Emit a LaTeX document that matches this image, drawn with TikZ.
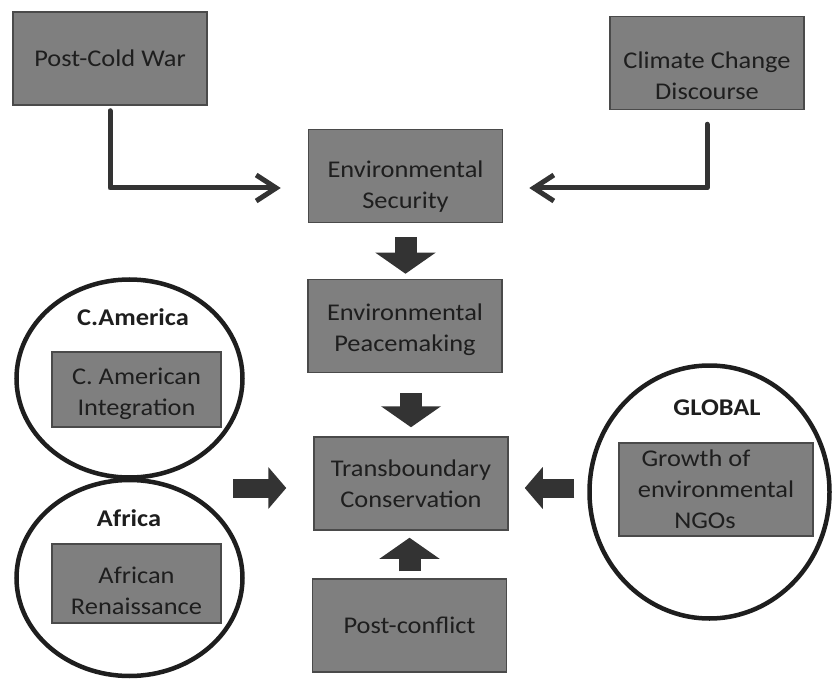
\documentclass[tikz,border=0pt]{standalone}
\usepackage{fontspec}
\setmainfont{Carlito}[FakeStretch=1.1]
\usetikzlibrary{arrows.meta,shapes.geometric}
\definecolor{boxgray}{HTML}{7F7F7F}
\definecolor{boxedge}{HTML}{4A4A4A}
\definecolor{ink}{HTML}{1E1E1E}
\definecolor{arrowgray}{HTML}{333333}
\newcommand{\lowerby}[1]{\rule{0pt}{#1}}
\begin{document}
\begin{tikzpicture}[x=1pt,y=-1pt,
  box/.style={draw=boxedge,line width=1.5pt,fill=boxgray,text=ink,align=center,
    minimum width=194pt,minimum height=93pt,inner sep=2pt,
    font=\fontsize{24}{31}\selectfont},
  region/.style={draw=ink,line width=4.5pt,ellipse,inner sep=0pt},
  tag/.style={text=ink,font=\fontsize{24}{30}\selectfont\bfseries},
  elbow/.style={draw=arrowgray,line width=5pt,line cap=round,line join=round,
    -{Straight Barb[length=20pt,width=26pt]}},
  fat/.style={draw=arrowgray,line width=22pt,-{Triangle[length=21pt,width=59pt]}},
  slim/.style={draw=arrowgray,line width=19pt,-{Triangle[length=18pt,width=41pt]}}]
\useasboundingbox (0,0) rectangle (833,679);
\node[box] (pcw) at (110,58.5) {Post-Cold War};
\node[box] (ccd) at (707,63) {\lowerby{42pt}Climate Change\\Discourse};
\node[box] (sec) at (405.5,176) {\lowerby{38pt}Environmental\\Security};
\node[box] (peace) at (405,326) {\lowerby{24pt}Environmental\\Peacemaking};
\node[box] (trans) at (411,483.5) {Transboundary\\Conservation};
\node[box] (postc) at (409.5,625.5) {Post-conflict};
\node[region,minimum width=226pt,minimum height=198pt] (camer) at (129.5,378.5) {};
\node[region,minimum width=226pt,minimum height=196pt] (africa) at (129.5,578) {};
\node[region,minimum width=240pt,minimum height=253pt] (glob) at (709.5,492) {};
\node[tag] (camertag) at (133,317) {C.America};
\node[tag] (africatag) at (129,518) {Africa};
\node[tag] (globtag) at (717,408) {GLOBAL};
\node[box,minimum width=169pt,minimum height=75pt] (cai) at (136.5,389.5) {\lowerby{26pt}C. American\\Integration};
\node[box,minimum width=169pt,minimum height=79pt] (afr) at (136.5,583.5) {\lowerby{32pt}African\\Renaissance};
\node[box] (ngo) at (716,489.5) {Growth of\hspace*{40pt}\\environmental\hspace*{13pt}\\NGOs\hspace*{22pt}};
\coordinate (west) at (233,488);
\draw[elbow,shorten <=5pt,shorten >=27pt] (pcw.south) |- ([yshift=-12pt]sec.west);
\draw[elbow,shorten <=14pt,shorten >=26pt] (ccd.south) |- ([yshift=-12pt]sec.east);
\draw[fat,shorten <=14pt,shorten >=5pt] (sec.south) -- (sec.south |- peace.north);
\draw[fat,shorten <=20pt,shorten >=9pt] (trans.north |- peace.south) -- (trans.north);
\draw[fat,shorten <=7pt,shorten >=7pt] (postc.north) -- (postc.north |- trans.south);
\draw[slim,shorten >=27pt] (west) -- (west -| trans.west);
\draw[slim,shorten <=13pt,shorten >=16pt] (glob.west |- west) -- (trans.east |- west);
\end{tikzpicture}
\end{document}
